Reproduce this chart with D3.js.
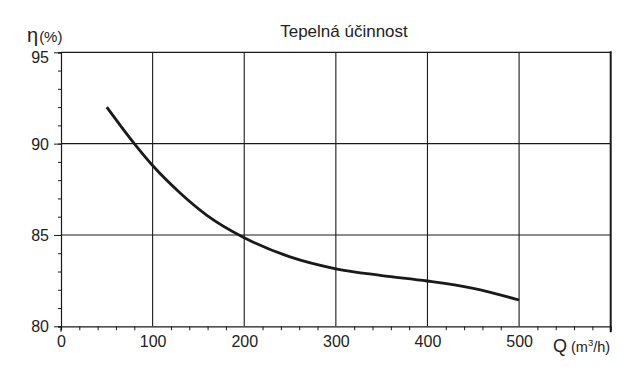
<!DOCTYPE html>
<html><head><meta charset="utf-8">
<script src="https://cdn.jsdelivr.net/npm/d3@7"></script>
<style>
body{margin:0;background:#fff;}
text{font-family:"Liberation Sans",Arial,sans-serif;fill:#222;}
</style></head>
<body><svg id="c" width="624" height="378"></svg>
<script>
const flowQ = [50, 80, 100, 130, 160, 200, 250, 300, 350, 400, 450, 500];
const efficiency = [92.0, 90.0, 88.8, 87.3, 86.05, 84.85, 83.8, 83.15, 82.78, 82.48, 82.08, 81.44];
const xTicks = [0, 100, 200, 300, 400, 500];
const yTicks = [80, 85, 90, 95];
const title = "Tepelná účinnost";

const svg = d3.select("#c");
const x = d3.scaleLinear().domain([0, 600]).range([61, 610.7]);
const y = d3.scaleLinear().domain([80, 95]).range([326.3, 52.3]);
const col = "#1a1a1a";
const font = "Liberation Sans, Arial, sans-serif";

// grid lines
svg.append("g").selectAll("line").data(xTicks.filter(d => d > 0)).join("line")
  .attr("x1", d => x(d)).attr("x2", d => x(d)).attr("y1", y(95)).attr("y2", y(80))
  .attr("stroke", col).attr("stroke-width", 1.1);
svg.append("g").selectAll("line").data(yTicks.filter(d => d > 80 && d < 95)).join("line")
  .attr("x1", x(0)).attr("x2", x(600)).attr("y1", d => y(d)).attr("y2", d => y(d))
  .attr("stroke", col).attr("stroke-width", 1.1);
// top border
svg.append("line").attr("x1", x(0)).attr("x2", x(600)).attr("y1", y(95)).attr("y2", y(95))
  .attr("stroke", col).attr("stroke-width", 1.2);
// right border
svg.append("line").attr("x1", x(600)).attr("x2", x(600)).attr("y1", y(95) - 1).attr("y2", y(80) + 6)
  .attr("stroke", col).attr("stroke-width", 2);

// y axis: minor ticks
const yAxisMinor = d3.axisLeft(y).tickValues(d3.range(80, 95.1, 1)).tickSize(3).tickFormat("");
const gy = svg.append("g").attr("transform", `translate(${x(0)},0)`).call(yAxisMinor);
gy.selectAll("line").attr("stroke", col);
gy.select(".domain").attr("stroke", col).attr("stroke-width", 1.2);
const yAxisMajor = d3.axisLeft(y).tickValues(yTicks).tickSize(7).tickPadding(5).tickFormat(d3.format("d"));
const gy2 = svg.append("g").attr("transform", `translate(${x(0)},0)`).call(yAxisMajor);
gy2.select(".domain").remove();
gy2.selectAll("line").attr("stroke", col);
gy2.selectAll("text").attr("font-size", 16).attr("fill", "#222").attr("font-family", font)
  .attr("dy", d => d === 95 ? "0.62em" : "0.34em");

// x axis: minor ticks
const xMinor = d3.range(0, 601, 20).filter(d => d % 100 !== 0);
const xAxisMinor = d3.axisBottom(x).tickValues(xMinor).tickSize(4).tickFormat("");
const gx = svg.append("g").attr("transform", `translate(0,${y(80)})`).call(xAxisMinor);
gx.selectAll("line").attr("stroke", col);
gx.select(".domain").attr("stroke", col).attr("stroke-width", 1.2);
const xAxisMajor = d3.axisBottom(x).tickValues(xTicks).tickSize(0).tickPadding(9).tickFormat(d3.format("d"));
const gx2 = svg.append("g").attr("transform", `translate(0,${y(80)})`).call(xAxisMajor);
gx2.select(".domain").remove();
gx2.selectAll("text").attr("font-size", 16).attr("fill", "#222").attr("font-family", font);
// tick at 0
svg.append("line").attr("x1", x(0)).attr("x2", x(0)).attr("y1", y(80)).attr("y2", y(80) + 5.5)
  .attr("stroke", col).attr("stroke-width", 1.2);

// curve
const pts = flowQ.map((q, i) => [q, efficiency[i]]);
svg.append("path").datum(pts)
  .attr("d", d3.line().x(d => x(d[0])).y(d => y(d[1])).curve(d3.curveMonotoneX))
  .attr("fill", "none").attr("stroke", col).attr("stroke-width", 2.8);

// title
svg.append("text").attr("x", 344).attr("y", 37).attr("text-anchor", "middle")
  .attr("font-size", 17).text(title);

// y label
const yl = svg.append("text").attr("x", 27).attr("y", 42);
yl.append("tspan").attr("font-size", 20).text("η");
yl.append("tspan").attr("font-size", 15).attr("dx", 1).text("(%)");

// x label
const xl = svg.append("text").attr("x", 553).attr("y", 352);
xl.append("tspan").attr("font-size", 18).text("Q");
xl.append("tspan").attr("font-size", 14.5).attr("dx", 4).text("(m");
xl.append("tspan").attr("font-size", 9.5).attr("dy", -6).text("3");
xl.append("tspan").attr("font-size", 14.5).attr("dy", 6).text("/h)");
</script></body></html>
